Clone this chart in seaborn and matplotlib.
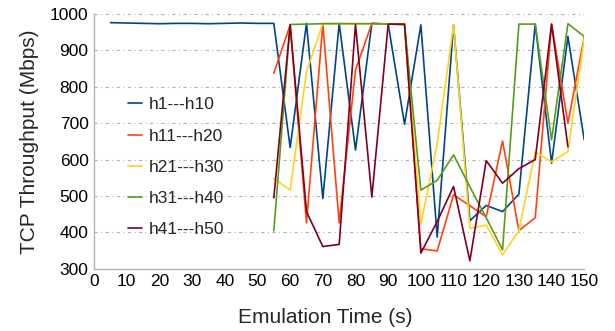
import matplotlib
matplotlib.use('Agg')
import matplotlib.pyplot as plt
import seaborn as sns
import pandas as pd

# ================================= #
# DATA
# ================================= #
time_all = list(range(5, 155, 5))
time_late = list(range(55, 155, 5))

h1_h10 = [976, 975, 974, 973, 974, 974, 973, 974, 975, 974,
          974, 633, 974, 493, 974, 626, 974, 972, 697, 970,
          387, 970, 432, 474, 457, 505, 972, 590, 938, 654]
h11_h20 = [837, 970, 426, 972, 426, 846, 974, 972, 972, 355,
           349, 503, 473, 443, 651, 405, 440, 972, 700, 937]
h21_h30 = [548, 516, 841, 974, 974, 973, 973, 973, 972, 422,
           644, 970, 411, 420, 338, 405, 621, 594, 622, 933]
h31_h40 = [404, 971, 972, 973, 973, 973, 973, 972, 970, 516,
           543, 613, 525, 440, 352, 972, 972, 654, 973, 938]
h41_h50 = [495, 970, 457, 361, 367, 971, 497, 972, 972, 343,
           430, 526, 322, 597, 535, 575, 600, 972, 635]

series_names = ['h1---h10', 'h11---h20', 'h21---h30', 'h31---h40', 'h41---h50']
colors = ['#004586', '#ff420e', '#ffd320', '#579d1c', '#7e0021']

# long-form frame for seaborn
frames = []
for name, vals in zip(series_names, [h1_h10, h11_h20, h21_h30, h31_h40, h41_h50]):
    t = time_all if len(vals) == len(time_all) else time_late[:len(vals)]
    frames.append(pd.DataFrame({'time': t, 'throughput': vals, 'pair': name}))
df = pd.concat(frames, ignore_index=True)

# ================================= #
# PLOT
# ================================= #
sns.set_style('white')
plt.rcParams['font.family'] = ['Liberation Sans', 'DejaVu Sans']

fig = plt.figure(figsize=(6.15, 3.31), dpi=100)
ax = fig.add_axes([0.153, 0.188, 0.797, 0.770])

sns.lineplot(data=df, x='time', y='throughput', hue='pair', hue_order=series_names,
             palette=colors, linewidth=1.2, ax=ax, estimator=None, sort=False)

ax.set_xlim(0, 150)
ax.set_ylim(300, 1000)
ax.set_xticks(range(0, 151, 10))
ax.set_yticks(range(300, 1001, 100))
ax.yaxis.grid(True, color='#b3b3b3', linestyle=(0, (3, 3, 1, 3)), linewidth=0.8)
ax.set_axisbelow(True)

sns.despine(ax=ax)
for sp in ['left', 'bottom']:
    ax.spines[sp].set_color('#b3b3b3')
    ax.spines[sp].set_linewidth(1.0)
ax.tick_params(axis='both', labelsize=12.5, colors='#b3b3b3', labelcolor='black',
               length=3, width=0.8, pad=1)

ax.set_xlabel('Emulation Time (s)', fontsize=15)
ax.xaxis.set_label_coords(0.471, -0.155)
ax.set_ylabel('TCP Throughput (Mbps)', fontsize=15, labelpad=8)

leg = ax.legend(loc='upper left', bbox_to_anchor=(0.055, 0.70), frameon=False,
                fontsize=12.5, handlelength=0.8, handletextpad=0.4,
                labelspacing=0.92, borderaxespad=0)
for line in leg.get_lines():
    line.set_linewidth(1.2)

fig.savefig('out.png', dpi=100)
plt.close('all')
